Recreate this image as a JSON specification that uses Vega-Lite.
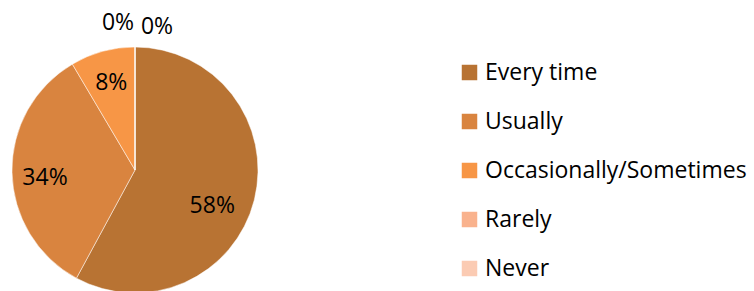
{
  "$schema": "https://vega.github.io/schema/vega-lite/v6.json",
  "width": 270,
  "height": 340,
  "autosize": "none",
  "padding": {"left": 0, "top": 0, "right": 484, "bottom": 0},
  "background": "white",
  "config": {"view": {"stroke": null}, "font": "Open Sans"},
  "data": {
    "values": [
      {"response": "Every time", "share": 57.9, "rank": 1, "label": "58%"},
      {"response": "Usually", "share": 33.6, "rank": 2, "label": "34%"},
      {"response": "Occasionally/Sometimes", "share": 8.5, "rank": 3, "label": "8%"},
      {"response": "Rarely", "share": 0, "rank": 4, "label": "0%"},
      {"response": "Never", "share": 0, "rank": 5, "label": "0%"}
    ]
  },
  "encoding": {
    "theta": {"field": "share", "type": "quantitative", "stack": true},
    "order": {"field": "rank", "type": "quantitative"}
  },
  "layer": [
    {
      "mark": {"type": "arc", "outerRadius": 123, "stroke": "white", "strokeWidth": 0.5},
      "encoding": {
        "color": {
          "field": "response",
          "type": "nominal",
          "sort": ["Every time", "Usually", "Occasionally/Sometimes", "Rarely", "Never"],
          "scale": {
            "domain": ["Every time", "Usually", "Occasionally/Sometimes", "Rarely", "Never"],
            "range": ["#B87333", "#D9843F", "#F79646", "#F9B28D", "#FBCBB3"]
          },
          "legend": {
            "title": null,
            "orient": "none",
            "legendX": 458,
            "legendY": 61,
            "symbolType": "square",
            "symbolSize": 240,
            "symbolStrokeWidth": 0,
            "labelFont": "Open Sans",
            "labelFontSize": 23,
            "labelColor": "black",
            "labelOffset": 4,
            "rowPadding": 25,
            "labelLimit": 400
          }
        }
      }
    },
    {
      "mark": {"type": "text", "radius": 90, "dx": -10, "dy": 14, "fontSize": 23, "font": "Open Sans", "color": "black"},
      "encoding": {"text": {"condition": {"test": "datum.response == 'Every time'", "field": "label"}, "value": ""}}
    },
    {
      "mark": {"type": "text", "radius": 90, "dy": 6, "fontSize": 23, "font": "Open Sans", "color": "black"},
      "encoding": {"text": {"condition": {"test": "datum.response == 'Usually'", "field": "label"}, "value": ""}}
    },
    {
      "mark": {"type": "text", "radius": 90, "fontSize": 23, "font": "Open Sans", "color": "black"},
      "encoding": {"text": {"condition": {"test": "datum.response == 'Occasionally/Sometimes'", "field": "label"}, "value": ""}}
    },
    {
      "mark": {"type": "text", "radius": 146, "dx": -17, "dy": -1, "fontSize": 23, "font": "Open Sans", "color": "black"},
      "encoding": {"text": {"condition": {"test": "datum.response == 'Rarely'", "field": "label"}, "value": ""}}
    },
    {
      "mark": {"type": "text", "radius": 142, "dx": 22, "dy": -1, "fontSize": 23, "font": "Open Sans", "color": "black"},
      "encoding": {"text": {"condition": {"test": "datum.response == 'Never'", "field": "label"}, "value": ""}}
    }
  ]
}
